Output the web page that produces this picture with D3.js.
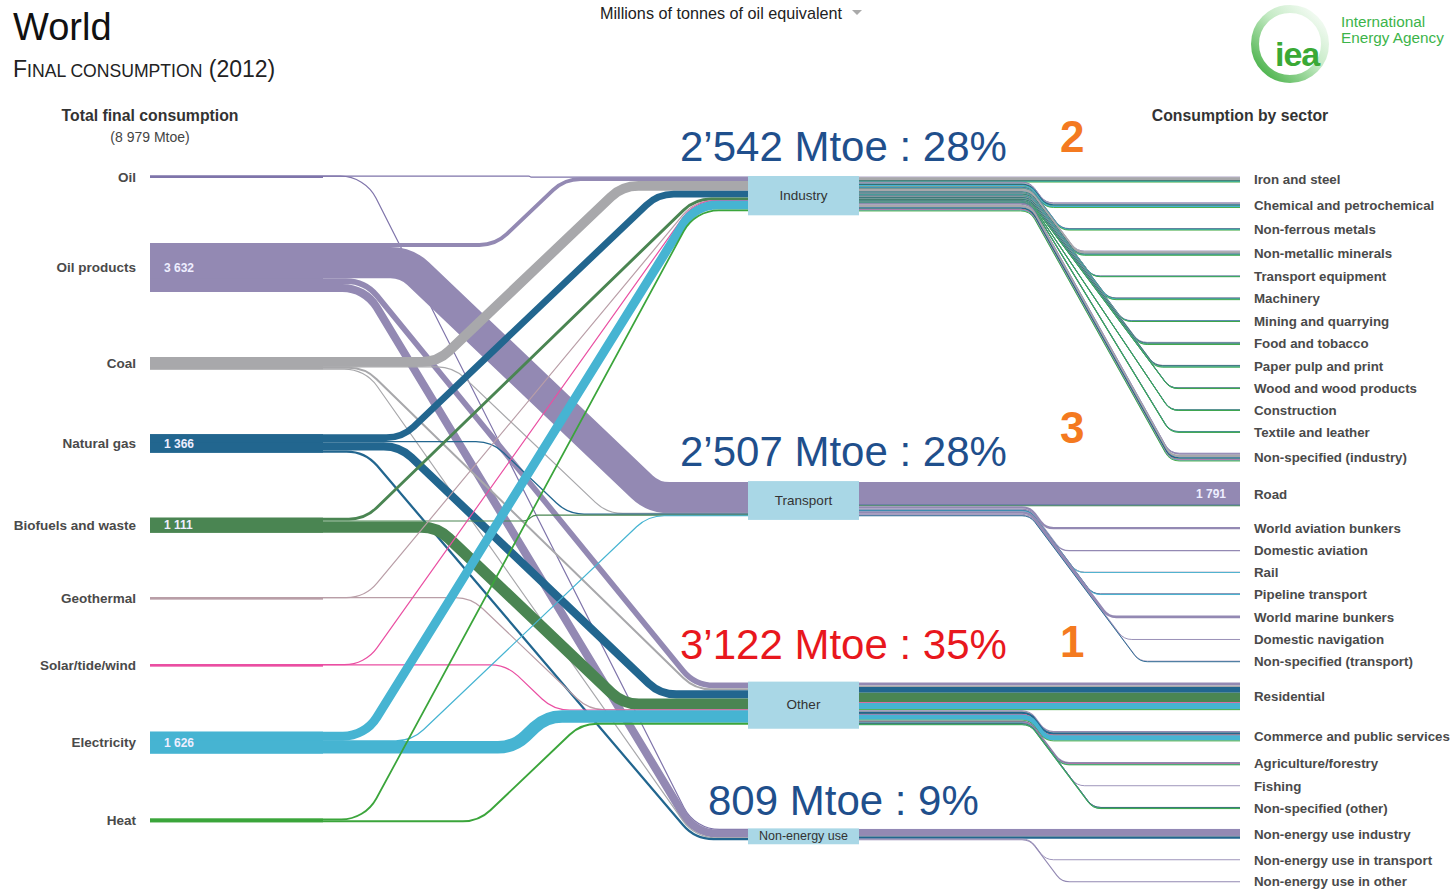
<!DOCTYPE html>
<html>
<head>
<meta charset="utf-8">
<script src="https://cdn.jsdelivr.net/npm/d3@7"></script>
<style>
  body { margin: 0; background: #fff; }
  svg { display: block; font-family: "Liberation Sans", Arial, sans-serif; }
</style>
</head>
<body>
<script>
// ---- data (Mtoe, world 2012) ----
var fuels = ["Oil", "Oil products", "Coal", "Natural gas", "Biofuels and waste",
             "Geothermal", "Solar/tide/wind", "Electricity", "Heat"];
var fuelTotals = [23, 3632, 907, 1366, 1111, 8, 34, 1626, 272];
var fuelLabels = ["", "3 632", "", "1 366", "1 111", "", "", "1 626", ""];
var fuelColors = ["#7f74aa", "#9389b3", "#a8a8ab", "#22668f", "#4a8552",
                  "#b99ea7", "#ea4fa2", "#46b4d2", "#3ba53b"];

var sectors = ["Industry", "Transport", "Other", "Non-energy use"];
var sectorAnnot = ["2\u2019542 Mtoe : 28%", "2\u2019507 Mtoe : 28%", "3\u2019122 Mtoe : 35%", "809 Mtoe : 9%"];
var sectorRank = ["2", "3", "1", ""];

// fuel -> sector flows, columns follow `fuels`
var industryIn  = [10, 291, 725, 502, 215, 1, 1, 668, 130];
var transportIn = [0, 2322, 3, 96, 62, 0, 0, 24, 0];
var otherIn     = [0, 420, 152, 600, 834, 7, 33, 934, 142];
var nonEnergyIn = [13, 599, 27, 168, 0, 0, 0, 0, 0];

// sector -> end use, split by fuel (same column order)
var industryTargets = ["Iron and steel", "Chemical and petrochemical", "Non-ferrous metals",
  "Non-metallic minerals", "Transport equipment", "Machinery", "Mining and quarrying",
  "Food and tobacco", "Paper pulp and print", "Wood and wood products", "Construction",
  "Textile and leather", "Non-specified (industry)"];
var industryMix = [
  [0, 15, 230, 45, 5, 0, 0, 75, 10],
  [5, 45, 45, 120, 5, 0, 0, 110, 30],
  [0, 8, 15, 17, 0, 0, 0, 78, 2],
  [0, 30, 180, 55, 10, 0, 0, 50, 5],
  [0, 4, 2, 14, 0, 0, 0, 28, 2],
  [0, 10, 10, 35, 1, 0, 0, 78, 6],
  [0, 25, 5, 15, 0, 0, 0, 33, 2],
  [0, 15, 20, 45, 45, 0, 0, 38, 7],
  [0, 8, 10, 22, 55, 0, 0, 40, 5],
  [0, 3, 1, 4, 22, 0, 0, 14, 1],
  [0, 20, 3, 6, 1, 0, 0, 22, 3],
  [0, 5, 15, 8, 2, 0, 0, 37, 3],
  [5, 103, 189, 116, 69, 1, 1, 65, 54]
];
var transportTargets = ["Road", "World aviation bunkers", "Domestic aviation", "Rail",
  "Pipeline transport", "World marine bunkers", "Domestic navigation", "Non-specified (transport)"];
var transportMix = [
  [0, 1697, 0, 30, 62, 0, 0, 0, 0],
  [0, 170, 0, 0, 0, 0, 0, 0, 0],
  [0, 95, 0, 0, 0, 0, 0, 0, 0],
  [0, 25, 3, 0, 0, 0, 0, 12, 0],
  [0, 2, 0, 46, 0, 0, 0, 12, 0],
  [0, 200, 0, 0, 0, 0, 0, 0, 0],
  [0, 70, 0, 0, 0, 0, 0, 0, 0],
  [0, 63, 0, 20, 0, 0, 0, 0, 0]
];
var otherTargets = ["Residential", "Commerce and public services", "Agriculture/forestry",
  "Fishing", "Non-specified (other)"];
var otherMix = [
  [0, 220, 110, 420, 730, 3, 25, 460, 71],
  [0, 100, 25, 170, 20, 3, 7, 390, 55],
  [0, 90, 15, 5, 20, 1, 1, 74, 9],
  [0, 8, 0, 0, 0, 0, 0, 0, 0],
  [0, 2, 2, 5, 64, 0, 0, 10, 7]
];
var nonEnergyTargets = ["Non-energy use industry", "Non-energy use in transport", "Non-energy use in other"];
var nonEnergyMix = [
  [13, 490, 27, 168, 0, 0, 0, 0, 0],
  [0, 30, 0, 0, 0, 0, 0, 0, 0],
  [0, 79, 0, 0, 0, 0, 0, 0, 0]
];
var roadLabel = "1 791";

// ---- layout ----
var width = 1456, height = 891;
var w = d3.scaleLinear().domain([0, 3632]).range([0, 49]);
var xSrc = 150, xSrcEnd = 323, xMid0 = 748, xMid1 = 859, xEnd = 1240;
var bendL = 530, bendR = 1030;

var svg = d3.select("body").append("svg")
    .attr("width", width)
    .attr("height", height);

var sectorInputs = [industryIn, transportIn, otherIn, nonEnergyIn];
var groups = [
  {targets: industryTargets, mix: industryMix},
  {targets: transportTargets, mix: transportMix},
  {targets: otherTargets, mix: otherMix},
  {targets: nonEnergyTargets, mix: nonEnergyMix}
];

// left nodes, stacked with a fixed gap
var sy = 176;
var src = fuels.map(function(f, i) {
  var h = Math.max(w(fuelTotals[i]), 2);
  var n = {name: f, y: sy, h: h, off: 0};
  sy += h + 65;
  return n;
});

// right targets, stacked with a fixed gap
var ty = 177;
groups.forEach(function(g) {
  g.rows = g.targets.map(function(t, j) {
    var tot = d3.sum(g.mix[j]);
    var r = {name: t, y: ty, h: w(tot), tot: tot, mix: g.mix[j]};
    ty += Math.max(w(tot), 1) + 20.75;
    return r;
  });
});

// middle nodes sit level with their first end use
var mid = sectors.map(function(s, i) {
  return {name: s, y: groups[i].rows[0].y, h: w(d3.sum(sectorInputs[i])), off: 0};
});

function radius(dx, dy, rmax) {
  var th = Math.atan2(Math.abs(dy), dx);
  var L = Math.sqrt(dx * dx + dy * dy);
  return Math.min(rmax, 0.95 * L / (2 * Math.tan(th / 2)));
}

function bentPath(x0, x1, y0, y1, xa, xb, rmax) {
  var p = d3.path();
  p.moveTo(x0, y0);
  if (Math.abs(y1 - y0) < 0.3) { p.lineTo(x1, y1); return p.toString(); }
  var r = radius(xb - xa, y1 - y0, rmax);
  p.arcTo(xa, y0, xb, y1, r);
  p.arcTo(xb, y1, x1, y1, r);
  p.lineTo(x1, y1);
  return p.toString();
}

// left links
var leftLinks = [];
fuels.forEach(function(f, i) {
  sectors.forEach(function(s, j) {
    var v = sectorInputs[j][i];
    if (!v) return;
    var t = w(v);
    leftLinks.push({fuel: i, v: v,
      y0: src[i].y + src[i].off + t / 2,
      y1: mid[j].y + mid[j].off + t / 2});
    src[i].off += t;
    mid[j].off += t;
  });
});

// right strands
var rightLinks = [];
groups.forEach(function(g, j) {
  var exitOff = 0;
  g.rows.forEach(function(r) {
    var fOff = 0;
    r.mix.forEach(function(v, f) {
      if (!v) return;
      var t = w(v);
      rightLinks.push({fuel: f, v: v,
        y0: mid[j].y + exitOff + fOff + t / 2,
        y1: r.y + fOff + t / 2});
      fOff += t;
    });
    exitOff += r.h;
  });
});

// ---- draw ----
// source blocks
svg.append("g").selectAll("rect")
  .data(src)
  .join("rect")
    .attr("x", xSrc)
    .attr("y", function(d) { return d.y; })
    .attr("width", xSrcEnd - xSrc)
    .attr("height", function(d) { return d.h; })
    .attr("fill", function(d, i) { return fuelColors[i]; });

svg.append("g").attr("fill", "none").selectAll("path")
  .data(leftLinks)
  .join("path")
    .attr("d", function(d) {
      var dx = Math.min(Math.abs(d.y1 - d.y0) * 1.05, 330);
      return bentPath(xSrc, xMid0, d.y0, d.y1, bendL - dx / 2, bendL + dx / 2, 40);
    })
    .attr("stroke", function(d) { return fuelColors[d.fuel]; })
    .attr("stroke-width", function(d) { return Math.max(w(d.v), 1.2); });

svg.append("g").attr("fill", "none").selectAll("path")
  .data(rightLinks)
  .join("path")
    .attr("d", function(d) {
      var dx = Math.min(Math.abs(d.y1 - d.y0) * 0.75, 140);
      return bentPath(xMid1, xEnd, d.y0, d.y1, bendR, bendR + dx, 16);
    })
    .attr("stroke", function(d) { return fuelColors[d.fuel]; })
    .attr("stroke-width", function(d) { return Math.max(w(d.v), 0.9); });

// middle boxes
var mg = svg.append("g").selectAll("g")
  .data(mid)
  .join("g");
mg.append("rect")
    .attr("x", xMid0)
    .attr("y", function(d) { return d.y - 1; })
    .attr("width", xMid1 - xMid0)
    .attr("height", function(d) { return d.h + 5; })
    .attr("fill", "#a9d7e6");
mg.append("text")
    .attr("x", (xMid0 + xMid1) / 2)
    .attr("y", function(d) { return d.y + d.h / 2 + 1; })
    .attr("dy", "0.35em")
    .attr("text-anchor", "middle")
    .attr("font-size", function(d) { return d.h < 14 ? 12.5 : 13.5; })
    .attr("fill", "#333")
    .text(function(d) { return d.name; });

// left labels
svg.append("g").selectAll("text")
  .data(src)
  .join("text")
    .attr("x", 136)
    .attr("y", function(d) { return d.y + d.h / 2; })
    .attr("dy", "0.35em")
    .attr("text-anchor", "end")
    .attr("font-size", 13.5)
    .attr("font-weight", "bold")
    .attr("fill", "#4a4a4a")
    .text(function(d) { return d.name; });

svg.append("g").selectAll("text")
  .data(src)
  .join("text")
    .attr("x", 164)
    .attr("y", function(d) { return d.y + d.h / 2; })
    .attr("dy", "0.35em")
    .attr("font-size", 12)
    .attr("font-weight", "bold")
    .attr("fill", "#eef")
    .text(function(d, i) { return fuelLabels[i]; });

// right labels
var allRows = [].concat.apply([], groups.map(function(g) { return g.rows; }));
svg.append("g").selectAll("text")
  .data(allRows)
  .join("text")
    .attr("x", 1254)
    .attr("y", function(d) { return d.y + Math.max(d.h, 1) / 2; })
    .attr("dy", "0.35em")
    .attr("font-size", 13.3)
    .attr("font-weight", "bold")
    .attr("fill", "#4a4a4a")
    .text(function(d) { return d.name; });

var road = groups[1].rows[0];
svg.append("text")
    .attr("x", 1226)
    .attr("y", road.y + road.h / 2)
    .attr("dy", "0.35em")
    .attr("text-anchor", "end")
    .attr("font-size", 12)
    .attr("font-weight", "bold")
    .attr("fill", "#eef")
    .text(roadLabel);

// big annotations
var annX = [680, 680, 680, 708];
var annDy = [-16, -16, -24, -14];
var rankDy = [-25, -39, -26, 0];
svg.append("g").selectAll("text")
  .data(mid)
  .join("text")
    .attr("x", function(d, i) { return annX[i]; })
    .attr("y", function(d, i) { return d.y + annDy[i]; })
    .attr("font-size", 42)
    .attr("fill", function(d, i) { return i === 2 ? "#e8171d" : "#1f4f8c"; })
    .text(function(d, i) { return sectorAnnot[i]; });
svg.append("g").selectAll("text")
  .data(mid)
  .join("text")
    .attr("x", 1060)
    .attr("y", function(d, i) { return d.y + rankDy[i]; })
    .attr("font-size", 44)
    .attr("font-weight", "bold")
    .attr("fill", "#f47a20")
    .text(function(d, i) { return sectorRank[i]; });

// headings
svg.append("text").attr("x", 13).attr("y", 40)
    .attr("font-size", 38).attr("fill", "#111").text("World");
var sub = svg.append("text").attr("x", 13).attr("y", 77).attr("fill", "#222");
sub.append("tspan").attr("font-size", 23).text("F");
sub.append("tspan").attr("font-size", 17.6).text("INAL CONSUMPTION");
sub.append("tspan").attr("font-size", 23).text(" (2012)");

svg.append("text").attr("x", 600).attr("y", 19)
    .attr("font-size", 16.2).attr("fill", "#222")
    .text("Millions of tonnes of oil equivalent");
svg.append("path").attr("d", "M852,10L862,10L857,15Z").attr("fill", "#aaa");

svg.append("text").attr("x", 150).attr("y", 121).attr("text-anchor", "middle")
    .attr("font-size", 15.8).attr("font-weight", "bold").attr("fill", "#333")
    .text("Total final consumption");
svg.append("text").attr("x", 150).attr("y", 142).attr("text-anchor", "middle")
    .attr("font-size", 14).attr("fill", "#444")
    .text("(8 979 Mtoe)");
svg.append("text").attr("x", 1240).attr("y", 121).attr("text-anchor", "middle")
    .attr("font-size", 15.8).attr("font-weight", "bold").attr("fill", "#333")
    .text("Consumption by sector");

// iea logo
var defs = svg.append("defs");
var grad = defs.append("linearGradient").attr("id", "ring")
    .attr("x1", 1).attr("y1", 0).attr("x2", 0).attr("y2", 1);
grad.append("stop").attr("offset", "0%").attr("stop-color", "#ffffff");
grad.append("stop").attr("offset", "45%").attr("stop-color", "#c4eac4");
grad.append("stop").attr("offset", "100%").attr("stop-color", "#36a936");
svg.append("circle").attr("cx", 1290).attr("cy", 44).attr("r", 35)
    .attr("fill", "none").attr("stroke", "url(#ring)").attr("stroke-width", 8);
svg.append("text").attr("x", 1275).attr("y", 66)
    .attr("font-size", 34).attr("font-weight", "bold").attr("fill", "#3aa935")
    .attr("letter-spacing", -1).text("iea");
svg.append("text").attr("x", 1341).attr("y", 27)
    .attr("font-size", 15.3).attr("fill", "#3cb44a").text("International");
svg.append("text").attr("x", 1341).attr("y", 43)
    .attr("font-size", 15.3).attr("fill", "#3cb44a").text("Energy Agency");
</script>
</body>
</html>
